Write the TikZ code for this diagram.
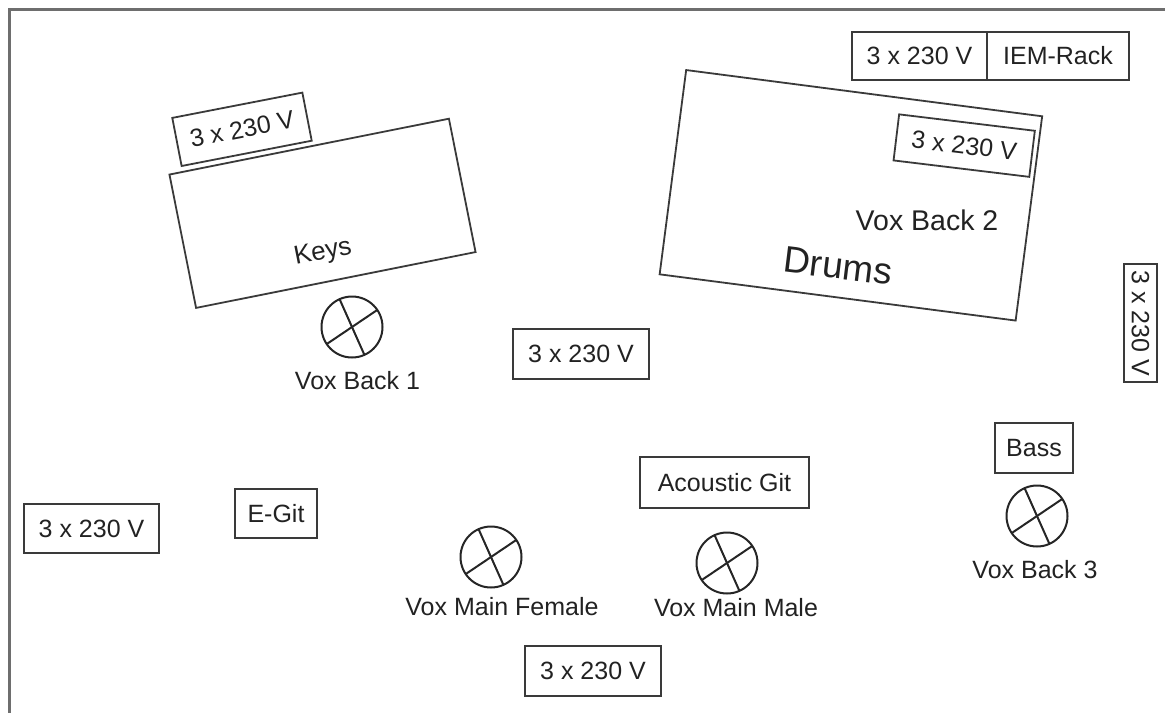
\documentclass[tikz,border=0pt]{standalone}
\usepackage{fontspec}
\setmainfont{Liberation Sans}
\definecolor{boxc}{HTML}{3A3A3A}
\definecolor{txt}{HTML}{222222}
\definecolor{framec}{HTML}{6E6E6E}
\newcommand{\fsz}[1]{\fontsize{#1}{#1}\selectfont}
\begin{document}
\begin{tikzpicture}[x=1pt,y=-1pt,
  box/.style={draw=boxc, line width=1.8pt, inner sep=0pt, outer sep=0pt, rectangle, text=txt, font=\fsz{25}},
  stage/.style={draw=boxc, line width=1.8pt, inner sep=0pt, outer sep=0pt, rectangle},
  lbl/.style={text=txt, inner sep=0pt, font=\fsz{25}},
  mic/.style={draw=black!85, line width=2pt, circle, inner sep=0pt, outer sep=0pt, minimum size=61pt},
  cross/.style={draw=black!85, line width=2pt}]
\useasboundingbox (0,0) rectangle (1165,713);
% frame
\draw[framec, line width=3pt] (1165,9.5) -- (9.5,9.5) -- (9.5,713);
% stages
\node[stage, minimum width=285pt, minimum height=136pt, rotate=11.3] (keys) at (322.5,213.3) {};
\node[lbl, rotate=11.3, font=\fsz{26}] (keyst) at (323,253) {Keys};
\node[box, minimum width=132.5pt, minimum height=49pt, rotate=11] (pkeys) at (242,129.3) {3 x 230 V};
\node[stage, minimum width=359pt, minimum height=206pt, rotate=-7.4] (drums) at (850.9,195.3) {};
\node[box, minimum width=136.7pt, minimum height=46.4pt, rotate=-6.9] (pdrums) at (964.2,145.6) {3 x 230 V};
\node[lbl, font=\fsz{28.5}] (vb2) at (927,220) {Vox Back 2};
\node[lbl, rotate=-7, font=\fsz{37}] (drumst) at (838,266) {Drums};
% top boxes
\node[box, minimum width=135pt, minimum height=48pt] (ptop) at (919.5,56) {3 x 230 V};
\node[box, minimum width=142pt, minimum height=48pt] (iem) at (1058,56) {IEM-Rack};
\node[box, minimum width=118pt, minimum height=33pt, rotate=-90] (pright) at (1140.5,323) {3 x 230 V};
% other boxes
\node[box, minimum width=136pt, minimum height=50pt] (pmid) at (581,354) {3 x 230 V};
\node[box, minimum width=135pt, minimum height=49pt] (pleft) at (91.5,528.5) {3 x 230 V};
\node[box, minimum width=82pt, minimum height=49pt] (egit) at (276,513.5) {E-Git};
\node[box, minimum width=169pt, minimum height=51pt] (agit) at (724.5,482.5) {Acoustic Git};
\node[box, minimum width=78pt, minimum height=50pt] (bass) at (1034,448) {Bass};
\node[box, minimum width=136pt, minimum height=50pt] (pbot) at (593,671) {3 x 230 V};
% mics
\node[mic] (m1) at (352,327) {};
\draw[cross] (m1.114) -- (m1.294); \draw[cross] (m1.34) -- (m1.214);
\node[lbl] (m1t) at (357.5,381) {Vox Back 1};
\node[mic] (m2) at (491,557) {};
\draw[cross] (m2.114) -- (m2.294); \draw[cross] (m2.34) -- (m2.214);
\node[lbl] (m2t) at (502,607) {Vox Main Female};
\node[mic] (m3) at (727,563) {};
\draw[cross] (m3.114) -- (m3.294); \draw[cross] (m3.34) -- (m3.214);
\node[lbl] (m3t) at (736,608) {Vox Main Male};
\node[mic] (m4) at (1037,516) {};
\draw[cross] (m4.114) -- (m4.294); \draw[cross] (m4.34) -- (m4.214);
\node[lbl] (m4t) at (1035,570) {Vox Back 3};
\end{tikzpicture}
\end{document}
